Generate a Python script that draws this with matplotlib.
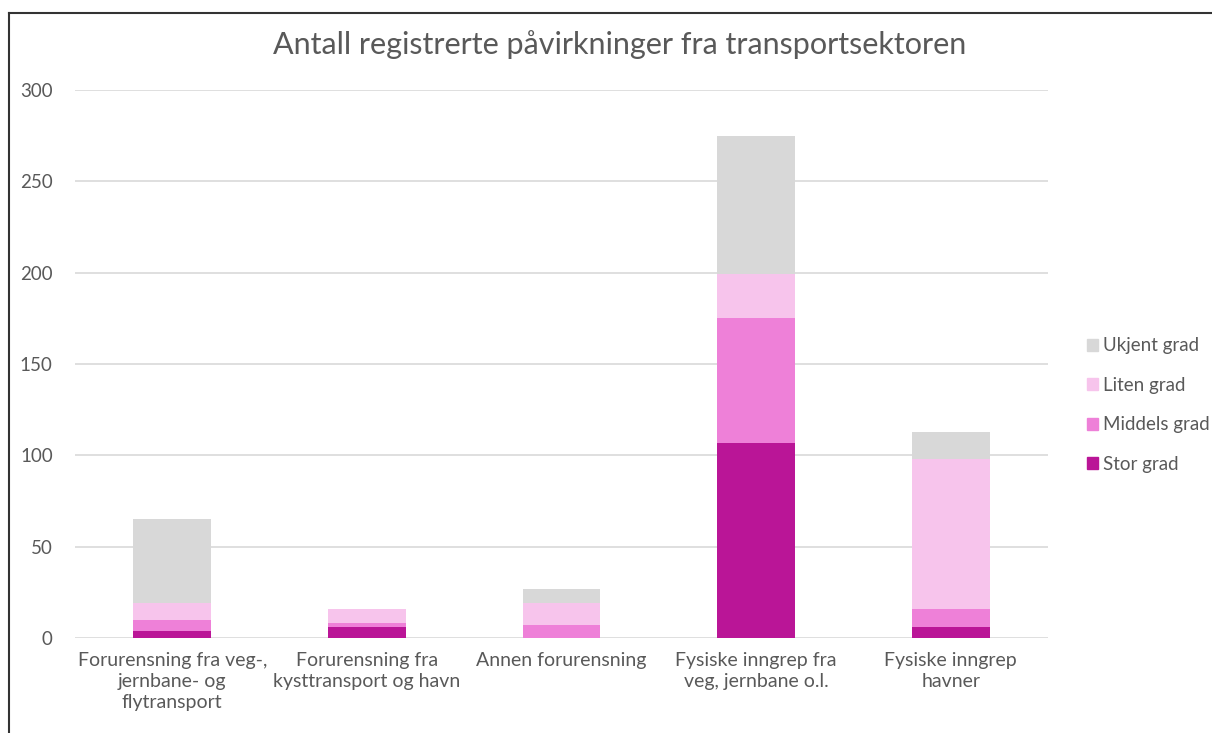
import numpy as np
import matplotlib
matplotlib.use("Agg")
import matplotlib.pyplot as plt
from matplotlib.patches import Patch

categories = ["Forurensning fra veg-,\njernbane- og\nflytransport",
              "Forurensning fra\nkysttransport og havn",
              "Annen forurensning",
              "Fysiske inngrep fra\nveg, jernbane o.l.",
              "Fysiske inngrep\nhavner"]
series = ["Stor grad", "Middels grad", "Liten grad", "Ukjent grad"]
stor = [4, 6, 0, 107, 6]
middels = [6, 2, 7, 68, 10]
liten = [9, 8, 12, 24, 82]
ukjent = [46, 0, 8, 76, 15]
yticks = [0, 50, 100, 150, 200, 250, 300]

colors = ["#BA1597", "#EE80D8", "#F7C4EC", "#D8D8D8"]
txt = "#595959"

plt.rcParams['font.family'] = ['Lato', 'DejaVu Sans']

fig = plt.figure(figsize=(12.12, 7.33), dpi=100)
ax = fig.add_axes([75/1212, 95/733, (1048-75)/1212, (638-90)/733])

x = np.arange(len(categories))
bottom = np.zeros(len(categories))
for name, vals, c in zip(series, [stor, middels, liten, ukjent], colors):
    ax.bar(x, vals, width=0.4, bottom=bottom, color=c, label=name, zorder=3)
    bottom += np.array(vals)

ax.set_xlim(-0.5, len(categories) - 0.5)
ax.set_ylim(0, 300)
ax.set_yticks(yticks)
ax.set_yticklabels([str(v) for v in yticks], fontsize=13.5, color=txt)
ax.set_xticks(x)
ax.set_xticklabels(categories, fontsize=14, color=txt, linespacing=1.3)
ax.tick_params(length=0, axis='y', pad=16)
ax.tick_params(length=0, axis='x', pad=10)
ax.grid(axis='y', color="#D9D9D9", linewidth=1.2, zorder=0)
for s in ax.spines.values():
    s.set_visible(False)

fig.text(0.5 * (270 + 970) / 1212, 1 - 45/733, "Antall registrerte påvirkninger fra transportsektoren",
         ha='center', va='center', fontsize=22, color=txt)

handles = [Patch(color=c, label=n) for n, c in zip(series, colors)][::-1]
fig.legend(handles=handles, loc='center left', bbox_to_anchor=(1070/1212, 1 - 405/733),
           frameon=False, fontsize=13.5, labelcolor=txt, handlelength=0.6, handleheight=0.6,
           handletextpad=0.25, labelspacing=1.2)

# outer frame (top and left edge of the chart box)
fig.add_artist(plt.Line2D([9/1212, 1], [1 - 13/733, 1 - 13/733], color="#333333", linewidth=1.5))
fig.add_artist(plt.Line2D([9/1212, 9/1212], [0, 1 - 13/733], color="#333333", linewidth=1.5))

fig.savefig("out.png", dpi=100)
